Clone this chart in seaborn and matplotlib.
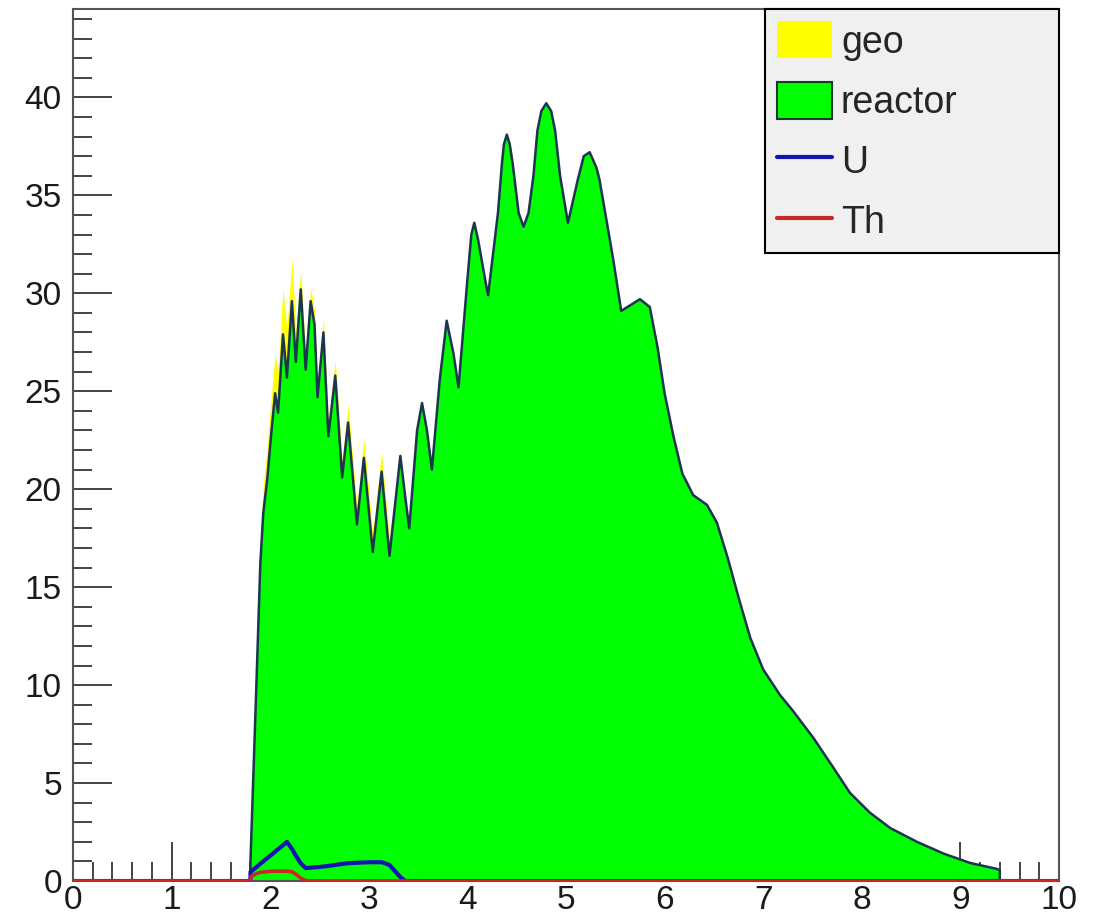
import numpy as np
import pandas as pd
import matplotlib
matplotlib.use("Agg")
import matplotlib.pyplot as plt
from matplotlib.patches import Patch
from matplotlib.lines import Line2D
from matplotlib.ticker import MultipleLocator
import seaborn as sns

# ---- data ----
energy = [0.0, 1.80, 1.80, 1.83, 1.86, 1.90, 1.93, 1.97, 2.01, 2.05, 2.08, 2.13, 2.17,
          2.22, 2.26, 2.31, 2.36, 2.41, 2.45, 2.48, 2.54, 2.59, 2.66, 2.73, 2.79,
          2.88, 2.95, 3.04, 3.13, 3.21, 3.32, 3.37, 3.41, 3.49, 3.54, 3.59, 3.64,
          3.72, 3.79, 3.86, 3.91, 4.00, 4.04, 4.07, 4.11, 4.18, 4.21, 4.31, 4.35,
          4.37, 4.40, 4.43, 4.46, 4.52, 4.57, 4.62, 4.67, 4.71, 4.75, 4.80, 4.85,
          4.89, 4.94, 5.02, 5.12, 5.18, 5.24, 5.31, 5.34, 5.48, 5.56, 5.75,
          5.85, 5.93, 6.00, 6.09, 6.18, 6.29, 6.43, 6.53, 6.64, 6.76, 6.87, 7.00,
          7.17, 7.30, 7.51, 7.71, 7.88, 8.08, 8.29, 8.56, 8.83, 9.10, 9.37, 9.40,
          9.40, 10.0]

reactor = [0.0, 0.0, 1.0, 5.5, 10.0, 16.2, 18.8, 20.5, 22.8, 24.9, 23.9, 27.9, 25.7,
           29.6, 26.5, 30.2, 26.1, 29.6, 28.4, 24.7, 28.0, 22.7, 25.8, 20.6, 23.4,
           18.2, 21.6, 16.8, 20.9, 16.6, 21.7, 19.6, 18.0, 23.0, 24.4, 23.0, 21.0,
           25.6, 28.6, 26.9, 25.2, 30.7, 33.0, 33.6, 32.7, 30.7, 29.9, 34.1, 36.6,
           37.6, 38.1, 37.6, 36.6, 34.1, 33.4, 34.1, 36.0, 38.3, 39.3, 39.7, 39.3,
           38.3, 36.0, 33.6, 35.8, 37.0, 37.2, 36.4, 35.8, 31.7, 29.1, 29.7,
           29.3, 27.2, 24.9, 22.7, 20.8, 19.7, 19.2, 18.3, 16.5, 14.3, 12.4, 10.8,
           9.5, 8.7, 7.3, 5.8, 4.5, 3.5, 2.7, 2.0, 1.4, 0.92, 0.62, 0.55,
           0.0, 0.0]

uranium = [0.0, 0.0, 0.46, 0.58, 0.71, 0.88, 1.0, 1.17, 1.33, 1.5, 1.62, 1.83, 2.0,
           1.65, 1.3, 0.9, 0.66, 0.68, 0.7, 0.71, 0.74, 0.77, 0.82, 0.87, 0.91,
           0.93, 0.95, 0.96, 0.96, 0.82, 0.2, 0.0, 0.0, 0.0, 0.0, 0.0, 0.0,
           0.0, 0.0, 0.0, 0.0, 0.0, 0.0, 0.0, 0.0, 0.0, 0.0, 0.0, 0.0,
           0.0, 0.0, 0.0, 0.0, 0.0, 0.0, 0.0, 0.0, 0.0, 0.0, 0.0, 0.0,
           0.0, 0.0, 0.0, 0.0, 0.0, 0.0, 0.0, 0.0, 0.0, 0.0, 0.0,
           0.0, 0.0, 0.0, 0.0, 0.0, 0.0, 0.0, 0.0, 0.0, 0.0, 0.0, 0.0,
           0.0, 0.0, 0.0, 0.0, 0.0, 0.0, 0.0, 0.0, 0.0, 0.0, 0.0, 0.0,
           0.0, 0.0]

thorium = [0.0, 0.0, 0.2, 0.3, 0.38, 0.44, 0.46, 0.48, 0.5, 0.5, 0.5, 0.5, 0.5,
           0.48, 0.35, 0.15, 0.02, 0.0, 0.0, 0.0, 0.0, 0.0, 0.0, 0.0, 0.0,
           0.0, 0.0, 0.0, 0.0, 0.0, 0.0, 0.0, 0.0, 0.0, 0.0, 0.0, 0.0,
           0.0, 0.0, 0.0, 0.0, 0.0, 0.0, 0.0, 0.0, 0.0, 0.0, 0.0, 0.0,
           0.0, 0.0, 0.0, 0.0, 0.0, 0.0, 0.0, 0.0, 0.0, 0.0, 0.0, 0.0,
           0.0, 0.0, 0.0, 0.0, 0.0, 0.0, 0.0, 0.0, 0.0, 0.0, 0.0,
           0.0, 0.0, 0.0, 0.0, 0.0, 0.0, 0.0, 0.0, 0.0, 0.0, 0.0, 0.0,
           0.0, 0.0, 0.0, 0.0, 0.0, 0.0, 0.0, 0.0, 0.0, 0.0, 0.0, 0.0,
           0.0, 0.0]

legend_labels = ["geo", "reactor", "U", "Th"]
x_ticks = [0, 1, 2, 3, 4, 5, 6, 7, 8, 9, 10]
y_ticks = [0, 5, 10, 15, 20, 25, 30, 35, 40]

# ---- style ----
sns.set_style("white")
plt.rcParams['font.family'] = ['Liberation Sans', 'DejaVu Sans']

df = pd.DataFrame({"E": energy, "reactor": reactor, "U": uranium, "Th": thorium})
df["geo"] = df["U"] + df["Th"]
df["stack"] = df["reactor"] + df["geo"]

fig = plt.figure(figsize=(10.99, 9.21), dpi=100)
ax = fig.add_axes([0.0664, 0.0434, 0.8972, 0.9466])

GREEN = "#00ff00"
YELLOW = "#ffff00"
OUTLINE = "#1c3550"
BLUE = "#1414b4"
RED = "#c82828"

ax.fill_between(df["E"], 0, df["stack"], color=YELLOW, linewidth=0, zorder=1)
ax.fill_between(df["E"], 0, df["reactor"], color=GREEN, linewidth=0, zorder=2)
sns.lineplot(data=df, x="E", y="reactor", ax=ax, color=OUTLINE, linewidth=1.8,
             estimator=None, sort=False, zorder=3)
sns.lineplot(data=df, x="E", y="U", ax=ax, color=BLUE, linewidth=3.0,
             estimator=None, sort=False, zorder=4)
sns.lineplot(data=df, x="E", y="Th", ax=ax, color=RED, linewidth=2.6,
             estimator=None, sort=False, zorder=5)

ax.set_xlim(0, 10)
ax.set_ylim(0, 44.5)
ax.set_xlabel("")
ax.set_ylabel("")
ax.set_xticks(x_ticks)
ax.set_yticks(y_ticks)
ax.set_xticklabels([str(t) for t in x_ticks])
ax.set_yticklabels([str(t) for t in y_ticks])
ax.xaxis.set_minor_locator(MultipleLocator(0.2))
ax.yaxis.set_minor_locator(MultipleLocator(1))
ax.tick_params(axis="both", which="both", bottom=True, left=True, top=False,
               right=False, direction="in")
ax.tick_params(axis="both", which="major", length=28, width=1.4,
               color="#444444", labelsize=24, labelcolor="#1a1a1a")
ax.tick_params(axis="both", which="minor", length=14, width=1.4,
               color="#444444")
ax.tick_params(axis="x", which="major", pad=3)
ax.tick_params(axis="y", which="major", pad=8)
for s in ax.spines.values():
    s.set_color("#555555")
    s.set_linewidth(1.5)
    s.set_visible(True)

handles = [
    Patch(facecolor=YELLOW, edgecolor="none"),
    Patch(facecolor=GREEN, edgecolor="#1a3a2a", linewidth=1.5),
    Line2D([], [], color=BLUE, linewidth=3.0),
    Line2D([], [], color=RED, linewidth=3.0),
]
leg = ax.legend(handles, legend_labels, loc="upper left",
                bbox_to_anchor=(0.702, 0.726, 0.298, 0.274), mode="expand",
                borderaxespad=0, fontsize=27, frameon=True, fancybox=False,
                edgecolor="black", facecolor="#f0f0f0", framealpha=1,
                handlelength=1.45, handleheight=1.15, handletextpad=0.25,
                labelspacing=0.56, borderpad=0.32)
leg.get_frame().set_linewidth(1.5)
leg.set_zorder(10)

fig.savefig("out.png", dpi=100)
